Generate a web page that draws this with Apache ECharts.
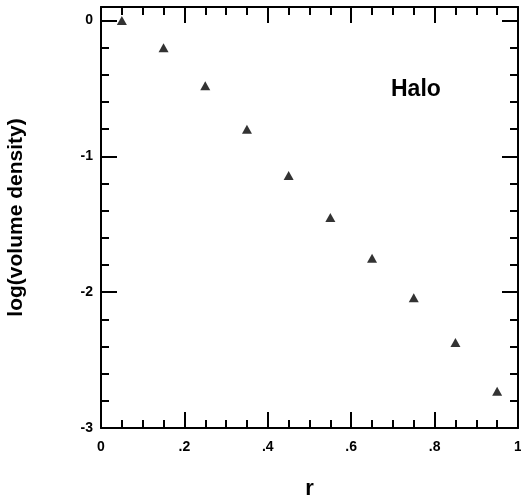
<!DOCTYPE html>
<html>
<head>
<meta charset="utf-8">
<script src="https://cdn.jsdelivr.net/npm/echarts@6/dist/echarts.min.js"></script>
<style>
  html, body { margin: 0; padding: 0; background: #fff; }
  #chart { width: 521px; height: 504px; }
</style>
</head>
<body>
<div id="chart"></div>
<script>
// Halo density profile: log of volume density against radius r
const rValues = [0.05, 0.15, 0.25, 0.35, 0.45, 0.55, 0.65, 0.75, 0.85, 0.95];
const logDensity = [0.0, -0.2, -0.48, -0.8, -1.14, -1.45, -1.75, -2.04, -2.37, -2.73];
const xTickLabels = ['0', '.2', '.4', '.6', '.8', '1'];
const yTickLabels = ['-3', '-2', '-1', '0'];
const panelLabel = 'Halo';
const xTitle = 'r';
const yTitle = 'log(volume density)';

const FONT = '"Liberation Sans", Arial, Helvetica, sans-serif';
const INK = '#000';

const points = rValues.map((r, i) => [r, logDensity[i]]);

function xLabel(v) {
  const k = Math.round(v / 0.2);
  return Math.abs(v - k * 0.2) < 1e-6 ? (xTickLabels[k] || '') : '';
}
function yLabel(v) {
  const k = Math.round(v + 3);
  return Math.abs(v - (k - 3)) < 1e-6 ? (yTickLabels[k] || '') : '';
}

const lineStyle = { color: INK, width: 2 };

function xAxisDef(pos, showLabels) {
  return {
    type: 'value', position: pos, min: 0, max: 1, interval: 0.2,
    axisLine: { show: true, onZero: false, lineStyle },
    axisTick: { show: true, inside: true, length: 16, lineStyle: { color: INK, width: 2 } },
    minorTick: { show: true, splitNumber: 4, length: 8, lineStyle: { color: INK, width: 2 } },
    splitLine: { show: false },
    axisLabel: showLabels
      ? { show: true, margin: 12, color: INK, fontFamily: FONT, fontWeight: 'bold', fontSize: 14, formatter: xLabel }
      : { show: false }
  };
}

function yAxisDef(pos, interval, len, showLine, showLabels) {
  return {
    type: 'value', position: pos, min: -3, max: 0.1, interval: interval,
    axisLine: { show: showLine, onZero: false, lineStyle },
    axisTick: { show: true, inside: true, length: len, lineStyle: { color: INK, width: 2 } },
    splitLine: { show: false },
    axisLabel: showLabels
      ? { show: true, margin: 8, color: INK, fontFamily: FONT, fontWeight: 'bold', fontSize: 14,
          formatter: yLabel, showMaxLabel: false }
      : { show: false }
  };
}

const chart = echarts.init(document.getElementById('chart'), null, { renderer: 'canvas' });

const xMain = xAxisDef('bottom', true);
xMain.name = xTitle;
xMain.nameLocation = 'middle';
xMain.nameGap = 50;
xMain.nameTextStyle = { color: INK, fontFamily: FONT, fontWeight: 'bold', fontSize: 22 };

const yMain = yAxisDef('left', 1, 16, true, true);
yMain.name = yTitle;
yMain.nameLocation = 'middle';
yMain.nameRotate = 90;
yMain.nameGap = 74;
yMain.nameTextStyle = { color: INK, fontFamily: FONT, fontWeight: 'bold', fontSize: 21 };

chart.setOption({
  animation: false,
  backgroundColor: '#fff',
  grid: { left: 101, right: 3, top: 7, bottom: 76, containLabel: false, outerBoundsMode: 'none' },
  xAxis: [xMain, xAxisDef('top', false)],
  yAxis: [
    yMain,
    yAxisDef('left', 0.2, 8, false, false),
    yAxisDef('right', 1, 16, true, false),
    yAxisDef('right', 0.2, 8, false, false)
  ],
  graphic: [{
    type: 'text',
    left: 391, top: 78,
    style: { text: panelLabel, fill: INK, font: 'bold 23px ' + FONT }
  }],
  series: [{
    type: 'scatter',
    xAxisIndex: 0, yAxisIndex: 0,
    symbol: 'triangle',
    symbolSize: [10, 9],
    itemStyle: { color: INK },
    data: points
  }]
});
</script>
</body>
</html>
